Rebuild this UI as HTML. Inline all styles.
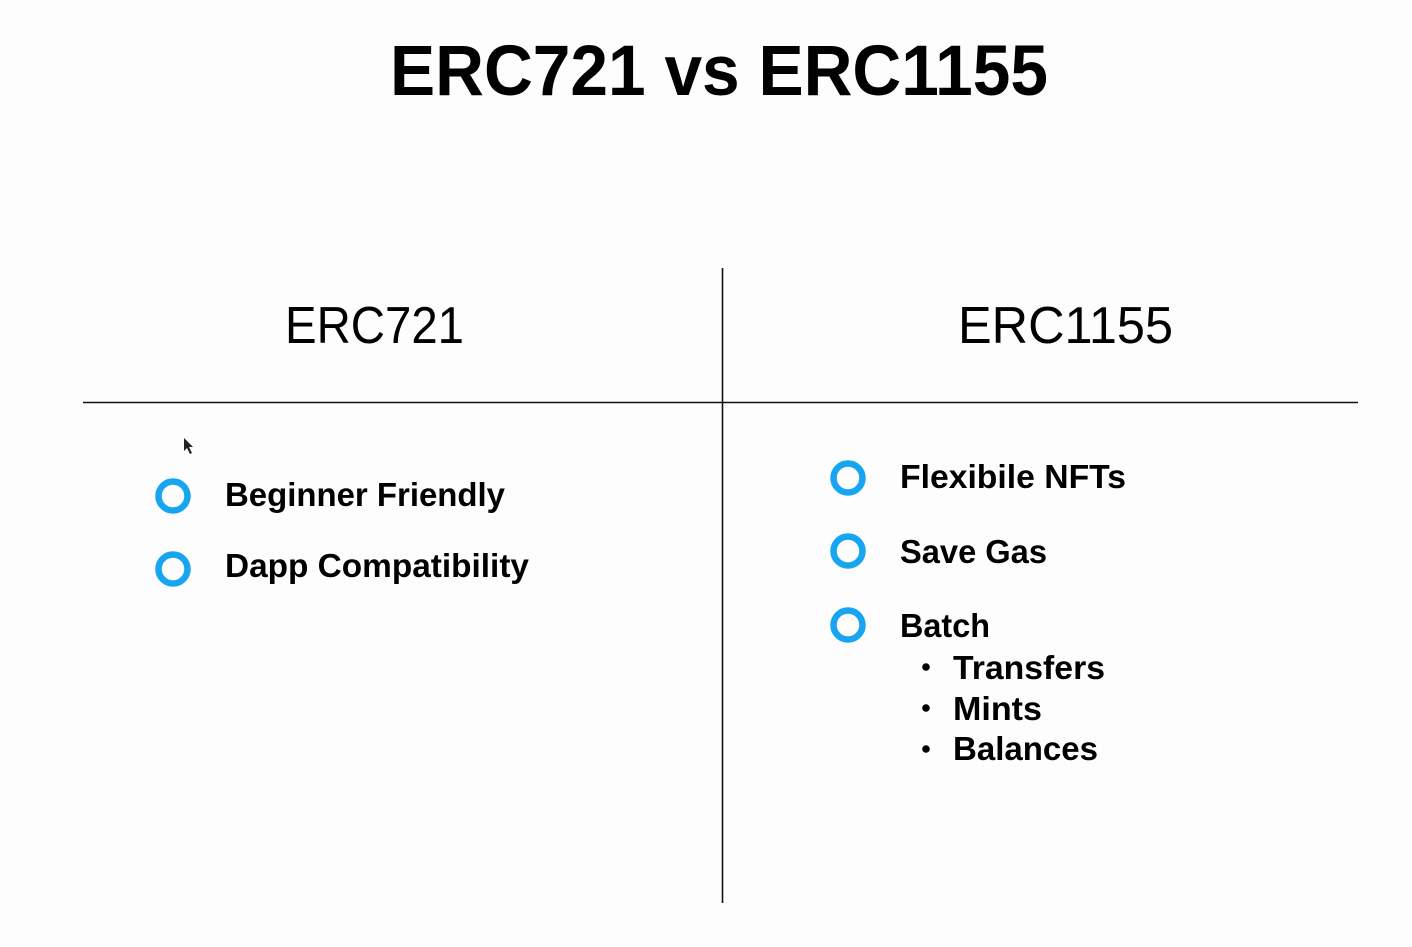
<!DOCTYPE html>
<html><head><meta charset="utf-8"><style>
html,body{margin:0;padding:0;background:#fdfdfd;}
svg{display:block;}
text{font-family:"Liberation Sans",Arial,sans-serif;fill:#000;}
.b{font-weight:bold;}
</style></head><body>
<svg width="1412" height="947" viewBox="0 0 1412 947">
<rect width="1412" height="947" fill="#fdfdfd"/>
<text class="b" x="390" y="95" font-size="71" textLength="658" lengthAdjust="spacingAndGlyphs">ERC721 vs ERC1155</text>
<text x="285" y="343" font-size="52" textLength="179" lengthAdjust="spacingAndGlyphs">ERC721</text>
<text x="958" y="343" font-size="52" textLength="215" lengthAdjust="spacingAndGlyphs">ERC1155</text>
<line x1="83" y1="402.5" x2="1358" y2="402.5" stroke="#111" stroke-width="1.6"/>
<line x1="722.5" y1="268" x2="722.5" y2="903" stroke="#111" stroke-width="1.6"/>
<g fill="none" stroke="#17a5f2" stroke-width="6.5">
<circle cx="173" cy="496" r="14.5"/>
<circle cx="173" cy="569" r="14.5"/>
<circle cx="848" cy="478" r="14.5"/>
<circle cx="848" cy="551" r="14.5"/>
<circle cx="848" cy="625" r="14.5"/>
</g>
<text class="b" x="225" y="506" font-size="33" textLength="280" lengthAdjust="spacingAndGlyphs">Beginner Friendly</text>
<text class="b" x="225" y="577" font-size="33" textLength="304" lengthAdjust="spacingAndGlyphs">Dapp Compatibility</text>
<text class="b" x="900" y="488" font-size="33" textLength="226" lengthAdjust="spacingAndGlyphs">Flexibile NFTs</text>
<text class="b" x="900" y="563" font-size="33" textLength="147" lengthAdjust="spacingAndGlyphs">Save Gas</text>
<text class="b" x="900" y="637" font-size="33" textLength="90" lengthAdjust="spacingAndGlyphs">Batch</text>
<text class="b" x="953" y="679" font-size="33" textLength="152" lengthAdjust="spacingAndGlyphs">Transfers</text>
<text class="b" x="953" y="720" font-size="33" textLength="89" lengthAdjust="spacingAndGlyphs">Mints</text>
<text class="b" x="953" y="760" font-size="33" textLength="145" lengthAdjust="spacingAndGlyphs">Balances</text>
<circle cx="926" cy="667" r="3.8" fill="#000"/>
<circle cx="926" cy="708" r="3.8" fill="#000"/>
<circle cx="926" cy="749" r="3.8" fill="#000"/>
<path d="M184 438 L184 451 L187 448 L190 454 L192 453 L189 447 L193 447 Z" fill="#222"/>
</svg>
</body></html>
